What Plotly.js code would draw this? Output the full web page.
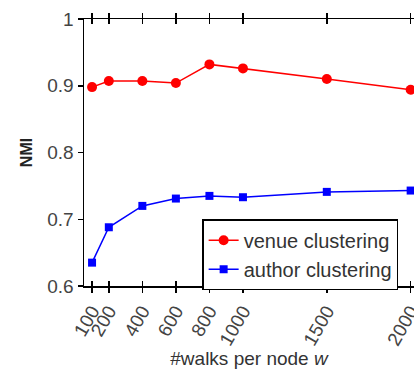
<!DOCTYPE html>
<html><head><meta charset="utf-8">
<script src="https://cdn.plot.ly/plotly-3.0.1.min.js"></script>
<style>body{margin:0}#c{width:414px;height:369px}</style>
</head><body><div id="c"></div>
<script>
const walks = [100, 200, 400, 600, 800, 1000, 1500, 2000];
const tickLabels = ['100', '200', '400', '600', '800', '1000', '1500', '2000'];
const venueNMI = [0.898, 0.907, 0.907, 0.904, 0.932, 0.926, 0.910, 0.894];
const authorNMI = [0.635, 0.688, 0.720, 0.731, 0.735, 0.733, 0.741, 0.743];
const yTicks = [0.6, 0.7, 0.8, 0.9, 1];
const yTickLabels = ['0.6', '0.7', '0.8', '0.9', '1'];

const traces = [
  {x: walks, y: venueNMI, name: 'venue clustering', mode: 'lines+markers', cliponaxis: false,
   line: {color: '#ff0000', width: 1.5}, marker: {symbol: 'circle', size: 10, color: '#ff0000'}},
  {x: walks, y: authorNMI, name: 'author clustering', mode: 'lines+markers', cliponaxis: false,
   xaxis: 'x2',
   line: {color: '#0000ff', width: 1.5}, marker: {symbol: 'square', size: 8, color: '#0000ff'}}
];
const xRange = [52, 2020];
const layout = {
  width: 414, height: 369,
  margin: {l: 84, r: 0, t: 19, b: 83},
  paper_bgcolor: '#fff', plot_bgcolor: '#fff',
  font: {family: 'Liberation Sans, Arial, sans-serif', color: '#333', size: 19},
  showlegend: true,
  legend: {x: 0.358, y: 0.25, xanchor: 'left', yanchor: 'top', bordercolor: '#000', borderwidth: 1.5,
    bgcolor: '#fff', font: {size: 20, color: '#333'}, tracegroupgap: 0},
  xaxis: {range: xRange, tickvals: walks, ticktext: tickLabels, tickangle: -60, automargin: false,
    ticklabeloverflow: 'allow',
    ticks: 'outside', ticklen: 5, tickwidth: 1.5, tickcolor: '#000', showline: true, linecolor: '#000', linewidth: 1.5,
    mirror: 'allticks', showgrid: false, zeroline: false, tickfont: {size: 19, color: '#444'},
    title: {text: '#walks per node <i>w</i>', font: {size: 19, color: '#333'}, standoff: 6}},
  xaxis2: {range: xRange, overlaying: 'x', anchor: 'y', side: 'bottom', tickvals: walks,
    ticks: 'inside', ticklen: 5, tickwidth: 1.5, tickcolor: '#000', showticklabels: false,
    showline: true, linecolor: '#000', linewidth: 1.5, mirror: 'allticks', showgrid: false, zeroline: false},
  yaxis: {range: [0.6, 1], tickvals: yTicks, ticktext: yTickLabels, automargin: false,
    ticks: 'outside', ticklen: 5, tickwidth: 1.5, tickcolor: '#000', showline: true, linecolor: '#000', linewidth: 1.5,
    showgrid: false, zeroline: false, tickfont: {size: 19, color: '#444'},
    title: {text: '<b>NMI</b>', font: {size: 16, color: '#222'}, standoff: 10}}
};
Plotly.newPlot('c', traces, layout, {displayModeBar: false, staticPlot: true});
</script></body></html>
